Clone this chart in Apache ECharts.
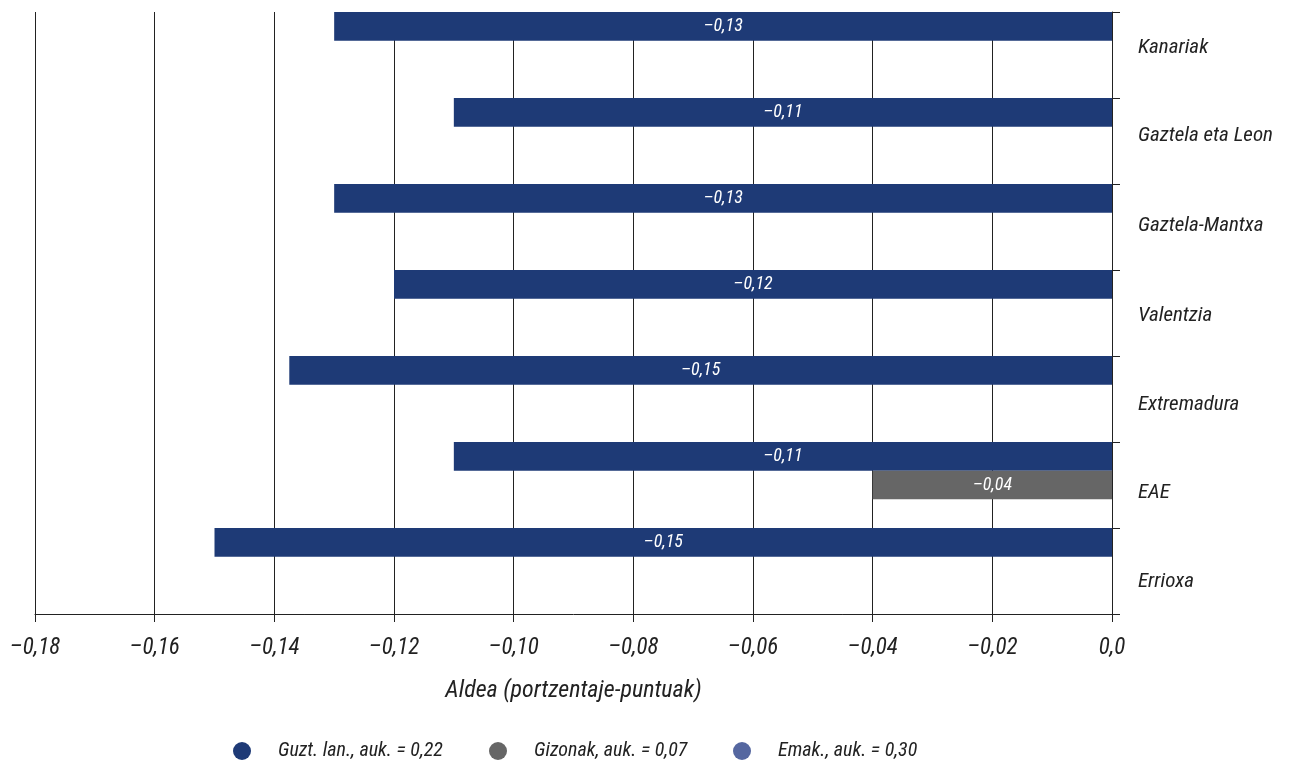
<!DOCTYPE html>
<html>
<head>
<meta charset="utf-8">
<script src="https://cdn.jsdelivr.net/npm/echarts@6/dist/echarts.min.js"></script>
<style>
html,body{margin:0;padding:0;background:#fff;}
#chart{width:1293px;height:760px;}
</style>
</head>
<body>
<div id="chart"></div>
<script>
const categories = ['Kanariak', 'Gaztela eta Leon', 'Gaztela-Mantxa', 'Valentzia', 'Extremadura', 'EAE', 'Errioxa'];
const seriesNames = ['Guzt. lan., auk. = 0,22', 'Gizonak, auk. = 0,07', 'Emak., auk. = 0,30'];
const guztValues = [-0.13, -0.11, -0.13, -0.12, -0.1375, -0.11, -0.15];
const guztLabels = ['–0,13', '–0,11', '–0,13', '–0,12', '–0,15', '–0,11', '–0,15'];
const gizonValues = [null, null, null, null, null, -0.04, null];
const gizonLabels = ['', '', '', '', '', '–0,04', ''];
const emakValues = [null, null, null, null, null, null, null];
const xTicks = { min: -0.18, max: 0, interval: 0.02 };

const FONT = "'Liberation Sans Narrow', 'Roboto Condensed', 'Liberation Sans', sans-serif";
const colors = ['#1e3a76', '#666666', '#5567a0'];
const labelShift = [-7, -5, -1, 3, 6, 8, 11];
const legendLeft = [233, 489, 733];

function fmtTick(v) {
  if (Math.abs(v) < 1e-9) return '0,0';
  return (v < 0 ? '–' : '') + Math.abs(v).toFixed(2).replace('.', ',');
}

const rich = {};
labelShift.forEach((s, i) => {
  rich['c' + i] = {
    fontFamily: FONT, fontStyle: 'italic', fontSize: 21, color: '#222',
    padding: s >= 0 ? [2 * s, 0, 0, 0] : [0, 0, -2 * s, 0]
  };
});

const legends = seriesNames.map((n, i) => ({
  top: 741, left: legendLeft[i], padding: 0, icon: 'circle', itemWidth: 18, itemHeight: 18,
  textStyle: { fontFamily: FONT, fontStyle: 'italic', fontSize: 20, color: '#222', padding: [0, 0, 0, 22] },
  data: [n]
}));

const chart = echarts.init(document.getElementById('chart'));
chart.setOption({
  animation: false,
  color: colors,
  grid: { left: 35, right: 181, top: 12, bottom: 146, containLabel: false },
  xAxis: {
    type: 'value', min: xTicks.min, max: xTicks.max, interval: xTicks.interval,
    name: 'Aldea (portzentaje-puntuak)', nameLocation: 'middle', nameGap: 65,
    nameTextStyle: { fontFamily: FONT, fontStyle: 'italic', fontSize: 24, color: '#222' },
    axisLine: { show: true, lineStyle: { color: '#222', width: 1 } },
    axisTick: { show: true, length: 8, lineStyle: { color: '#222' } },
    axisLabel: { formatter: fmtTick, margin: 23, fontFamily: FONT, fontStyle: 'italic', fontSize: 23, color: '#222' },
    splitLine: { show: true, lineStyle: { color: '#222', width: 1 } }
  },
  yAxis: {
    type: 'category', data: categories, inverse: true, position: 'right',
    axisLine: { show: true, onZero: false, lineStyle: { color: '#222', width: 1 } },
    axisTick: { show: true, length: 8, lineStyle: { color: '#222' } },
    axisLabel: {
      margin: 26, align: 'left',
      formatter: (v, i) => '{c' + i + '|' + v + '}',
      rich: rich
    },
    splitLine: { show: false }
  },
  legend: legends,
  series: [
    {
      name: seriesNames[0], type: 'bar', data: guztValues, barGap: '0%', barCategoryGap: '0%',
      label: { show: true, position: 'inside', color: '#fff', fontFamily: FONT, fontStyle: 'italic', fontSize: 18,
        formatter: p => guztLabels[p.dataIndex] }
    },
    {
      name: seriesNames[1], type: 'bar', data: gizonValues, barGap: '0%', barCategoryGap: '0%',
      label: { show: true, position: 'inside', color: '#fff', fontFamily: FONT, fontStyle: 'italic', fontSize: 18,
        formatter: p => gizonLabels[p.dataIndex] }
    },
    {
      name: seriesNames[2], type: 'bar', data: emakValues, barGap: '0%', barCategoryGap: '0%'
    }
  ]
});
</script>
</body>
</html>
